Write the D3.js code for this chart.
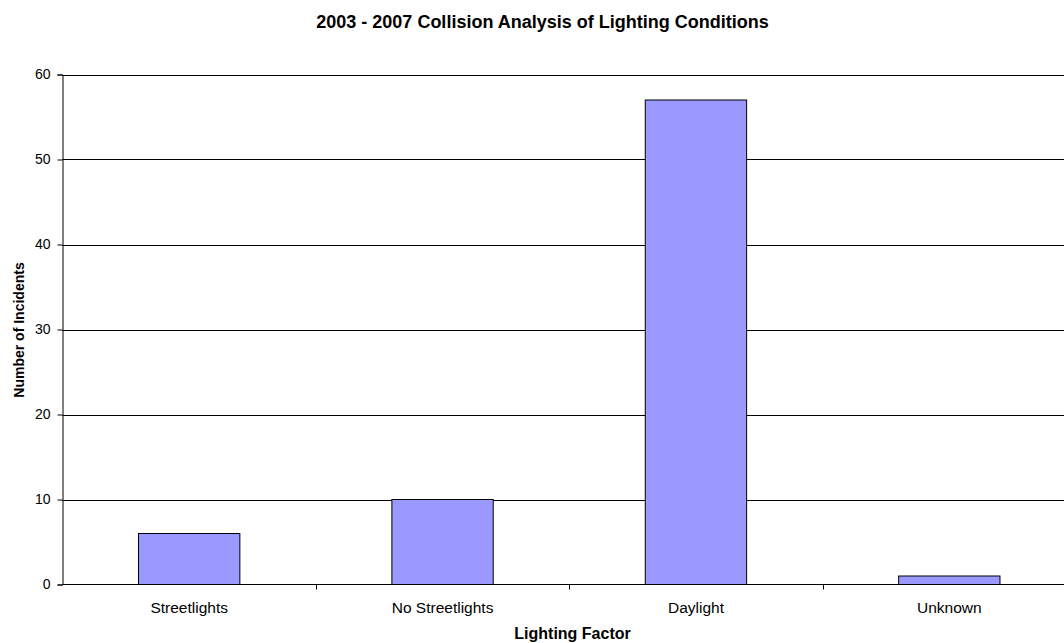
<!DOCTYPE html>
<html>
<head>
<meta charset="utf-8">
<script src="https://cdn.jsdelivr.net/npm/d3@7"></script>
<style>
  html, body { margin: 0; padding: 0; background: #fff; overflow: hidden; }
  svg { display: block; font-family: "Liberation Sans", Arial, sans-serif; }
</style>
</head>
<body>
<svg id="chart" width="1064" height="643"></svg>
<script>
// Lighting factor categories and incident counts
const categories = ["Streetlights", "No Streetlights", "Daylight", "Unknown"];
const incidents = [6, 10, 57, 1];
const yTicks = [0, 10, 20, 30, 40, 50, 60];

const svg = d3.select("#chart");
const margin = { left: 62.5, top: 74.5, right: 1076, bottom: 584.5 };

const x = d3.scaleBand()
  .domain(categories)
  .range([margin.left, margin.right])
  .paddingInner(0)
  .paddingOuter(0);

const y = d3.scaleLinear()
  .domain([0, 60])
  .range([margin.bottom, margin.top]);

// Horizontal gridlines
svg.append("g")
  .selectAll("line")
  .data(yTicks.filter(d => d > 0))
  .join("line")
  .attr("x1", margin.left)
  .attr("x2", margin.right)
  .attr("y1", d => Math.round(y(d)) + 0.5)
  .attr("y2", d => Math.round(y(d)) + 0.5)
  .attr("stroke", "#000")
  .attr("stroke-width", 1);

// Bars: width is 40% of the category band (gap width 150%)
const barW = x.bandwidth() * 0.4;
svg.append("g")
  .selectAll("rect")
  .data(categories.map((c, i) => ({ c, v: incidents[i] })))
  .join("rect")
  .attr("x", d => x(d.c) + (x.bandwidth() - barW) / 2)
  .attr("y", d => y(d.v))
  .attr("width", barW)
  .attr("height", d => y(0) - y(d.v))
  .attr("fill", "#9999FF")
  .attr("stroke", "#000")
  .attr("stroke-width", 1);

// Y axis
const yAxis = svg.append("g")
  .attr("transform", `translate(${margin.left},0)`)
  .call(d3.axisLeft(y).tickValues(yTicks).tickSize(5).tickPadding(7));
yAxis.selectAll("text").attr("font-size", 14).attr("fill", "#000").attr("font-family", "Liberation Sans, Arial, sans-serif");
yAxis.selectAll("line, path").attr("stroke", "#000");

// X axis: ticks sit on category boundaries
const xAxis = svg.append("g")
  .attr("transform", `translate(0,${margin.bottom})`);
xAxis.append("line")
  .attr("x1", margin.left).attr("x2", margin.right)
  .attr("y1", 0).attr("y2", 0)
  .attr("stroke", "#000");
xAxis.selectAll("line.tick")
  .data(categories.slice(1))
  .join("line")
  .attr("class", "tick")
  .attr("x1", d => Math.round(x(d)) + 0.5)
  .attr("x2", d => Math.round(x(d)) + 0.5)
  .attr("y1", 0).attr("y2", 5)
  .attr("stroke", "#000");
xAxis.selectAll("text")
  .data(categories)
  .join("text")
  .attr("x", d => x(d) + x.bandwidth() / 2)
  .attr("y", 28)
  .attr("text-anchor", "middle")
  .attr("font-size", 15.5)
  .attr("fill", "#000")
  .text(d => d);

// Titles
svg.append("text")
  .attr("x", 542.5)
  .attr("y", 27.5)
  .attr("text-anchor", "middle")
  .attr("font-size", 18)
  .attr("font-weight", "bold")
  .text("2003 - 2007 Collision Analysis of Lighting Conditions");

svg.append("text")
  .attr("x", 572.5)
  .attr("y", 639)
  .attr("text-anchor", "middle")
  .attr("font-size", 16)
  .attr("font-weight", "bold")
  .text("Lighting Factor");

svg.append("text")
  .attr("transform", "translate(23.5,330) rotate(-90)")
  .attr("text-anchor", "middle")
  .attr("font-size", 14)
  .attr("font-weight", "bold")
  .text("Number of Incidents");
</script>
</body>
</html>
